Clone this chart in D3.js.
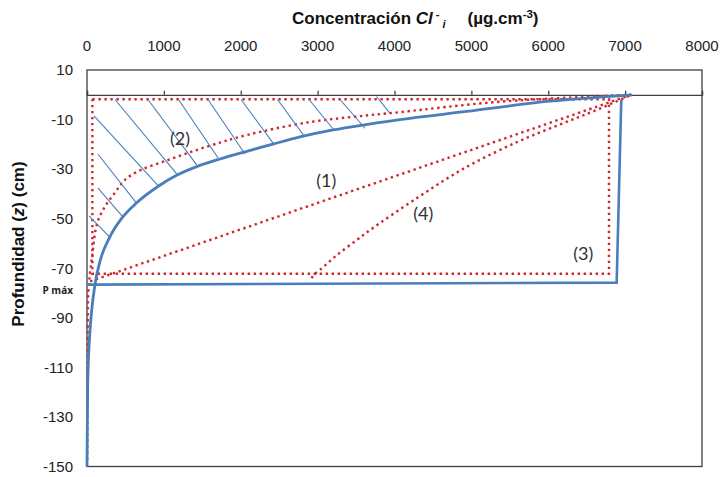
<!DOCTYPE html>
<html>
<head>
<meta charset="utf-8">
<script src="https://cdn.jsdelivr.net/npm/d3@7/dist/d3.min.js"></script>
<style>
  html, body { margin: 0; padding: 0; background: #fff; }
  svg { display: block; }
</style>
</head>
<body>
<svg id="chart" width="723" height="477"></svg>
<script>
// Axis ticks
const concTicks = [0, 1000, 2000, 3000, 4000, 5000, 6000, 7000, 8000];
const depthTicks = [10, -10, -30, -50, -70, -90, -110, -130, -150];

// Measured chloride profile (blue curve): concentration and depth
const profileConc  = [7085, 6020, 4940, 4070, 3200, 2770, 2420, 2055, 1730, 1427, 1166, 932, 646, 453, 295, 169, 104, 61, 30, 15, 8, 0];
const profileDepth = [0, -2.6, -6.7, -10.0, -14.2, -17.0, -19.9, -23.0, -25.9, -29.0, -32.5, -36.8, -43.6, -49.8, -57.5, -67.2, -76.5, -87.0, -99.5, -110, -120, -150];

// Block profile (blue polyline down to P máx)
const blockConc  = [6950, 6890, 0];
const blockDepth = [-2, -75.8, -76.6];

// Model (1): linear decrease
const model1Conc  = [7080, 20];
const model1Depth = [0, -75.5];

// Model (2): exponential-like decay
const model2Conc  = [7080, 5370, 4070, 3460, 2900, 2290, 1925, 1730, 1405, 1058, 711, 494, 364, 234, 147, 104, 82, 61, 39, 17, 8, 3];
const model2Depth = [0, -2.8, -7.0, -8.9, -11.0, -14.7, -17.5, -19.3, -22.5, -26.3, -30.2, -34.3, -39.5, -45.1, -50.5, -55.8, -61.2, -66.6, -72, -80, -110, -148];

// Model (3): uniform block
const model3Conc  = [70, 6790, 6790, 70, 70];
const model3Depth = [-1.8, -1.8, -72.2, -72.2, -1.8];

// Model (4): front ending inside the block
const model4Conc  = [2920, 2960, 3030, 3250, 3510, 3681, 4300, 4939, 5600, 6150, 6600, 7080];
const model4Depth = [-74, -72.4, -70.7, -64.7, -58.6, -54.6, -41.5, -29.1, -19, -12, -6.5, 0];

// Hatch segments between the block top and the measured curve
const hatchConcStart  = [26, 143, 143, 91, 364, 793, 1190, 1574, 2003, 2478, 2888, 3291, 3766];
const hatchDepthStart = [-48.9, -37.7, -24.0, -8.5, -1.9, -1.9, -1.9, -1.9, -1.9, -1.9, -1.9, -1.9, -0.7];
const hatchConcEnd    = [299, 455, 647, 937, 1167, 1427, 1708, 2055, 2423, 2814, 3204, 3616, 3941];
const hatchDepthEnd   = [-57.5, -48.9, -43.8, -37.1, -31.9, -28.3, -25.6, -23.9, -19.6, -16.2, -13.9, -13.5, -7.5];

// Curve labels
const labelText  = ["(1)", "(2)", "(3)", "(4)"];
const labelConc  = [3113, 1210, 6456, 4375];
const labelDepth = [-34.4, -17.5, -63.9, -47.8];

const pMaxDepth = -77;

const svg = d3.select("#chart");
const margin = { left: 87, right: 21, top: 70, bottom: 10.5 };
const W = 723, H = 477;

const x = d3.scaleLinear().domain([0, 8000]).range([margin.left, W - margin.right]);
const y = d3.scaleLinear().domain([10, -150]).range([margin.top, H - margin.bottom]);

const BLUE = "#4a7ebb";
const RED = "#d0262e";
const AXIS = "#404040";
const numFont = "'Liberation Sans', Arial, sans-serif";

// Plot frame
svg.append("rect")
  .attr("x", x(0)).attr("y", y(10))
  .attr("width", x(8000) - x(0)).attr("height", y(-150) - y(10))
  .attr("fill", "none").attr("stroke", AXIS).attr("stroke-width", 1.3);

// Concentration axis crossing at depth 0, ticks pointing up
const xAxis = d3.axisTop(x).tickValues(concTicks).tickSize(4).tickFormat("");
const gx = svg.append("g").attr("transform", `translate(0,${y(0)})`).call(xAxis);
gx.select(".domain").attr("stroke", AXIS).attr("stroke-width", 1.3);
gx.selectAll(".tick line").attr("stroke", AXIS).attr("stroke-width", 1.3);

// Concentration tick labels above the frame
svg.append("g").selectAll("text").data(concTicks).join("text")
  .attr("x", d => x(d)).attr("y", 45)
  .attr("text-anchor", "middle").attr("dominant-baseline", "central")
  .attr("font-family", numFont).attr("font-size", 15).attr("fill", "#222")
  .text(d => d);

// Depth axis labels
const yAxis = d3.axisLeft(y).tickValues(depthTicks).tickSize(0).tickPadding(14)
  .tickFormat(d => String(d));
const gy = svg.append("g").attr("transform", `translate(${x(0)},0)`).call(yAxis);
gy.select(".domain").remove();
gy.selectAll(".tick text")
  .attr("font-family", numFont).attr("font-size", 15).attr("fill", "#222");

// Red dotted models
const zip = (a, b) => a.map((v, i) => [v, b[i]]);
const line = d3.line().x(d => x(d[0])).y(d => y(d[1]));
const smooth = d3.line().x(d => x(d[0])).y(d => y(d[1])).curve(d3.curveCatmullRom.alpha(0.5));
const monotone = d3.line().x(d => x(d[0])).y(d => y(d[1])).curve(d3.curveMonotoneX);
const byConc = pts => pts.slice().sort((a, b) => a[0] - b[0]);

const dotted = g => g.attr("fill", "none").attr("stroke", RED)
  .attr("stroke-width", 2.4).attr("stroke-dasharray", "2.4,3.6");

svg.append("path").datum(zip(model3Conc, model3Depth)).attr("d", line).call(dotted);
svg.append("path").datum(zip(model1Conc, model1Depth)).attr("d", line).call(dotted);
svg.append("path").datum(zip(model2Conc, model2Depth)).attr("d", smooth).call(dotted);
svg.append("path").datum(zip(model4Conc, model4Depth)).attr("d", smooth).call(dotted);

// Hatching
svg.append("g").selectAll("line").data(hatchConcStart).join("line")
  .attr("x1", d => x(d)).attr("y1", (d, i) => y(hatchDepthStart[i]))
  .attr("x2", (d, i) => x(hatchConcEnd[i])).attr("y2", (d, i) => y(hatchDepthEnd[i]))
  .attr("stroke", BLUE).attr("stroke-width", 1.1);

// Blue block and measured curve
svg.append("path").datum(zip(blockConc, blockDepth)).attr("d", line)
  .attr("fill", "none").attr("stroke", BLUE).attr("stroke-width", 2.6);
svg.append("path").datum(byConc(zip(profileConc, profileDepth))).attr("d", monotone)
  .attr("fill", "none").attr("stroke", BLUE).attr("stroke-width", 2.8);

// Curve labels
svg.append("g").selectAll("text").data(labelText).join("text")
  .attr("x", (d, i) => x(labelConc[i])).attr("y", (d, i) => y(labelDepth[i]))
  .attr("text-anchor", "middle").attr("dominant-baseline", "central")
  .attr("font-family", "Lato, 'Open Sans', sans-serif").attr("font-size", 18).attr("fill", "#333")
  .text(d => d);

// P máx marker label
svg.append("text")
  .attr("x", 73).attr("y", y(pMaxDepth) + 4)
  .attr("text-anchor", "end").attr("dominant-baseline", "central")
  .attr("font-family", "'Open Sans', 'Noto Sans', sans-serif").attr("font-weight", "bold")
  .attr("font-size", 10).attr("fill", "#222")
  .text("P máx");

// Title
const title = svg.append("text")
  .attr("x", 292).attr("y", 24)
  .attr("font-family", numFont).attr("font-weight", "bold").attr("font-size", 17).attr("fill", "#111");
title.append("tspan").text("Concentración ");
title.append("tspan").attr("font-style", "italic").text("Cl");
title.append("tspan").attr("font-size", 11).attr("dx", 3).attr("dy", -6).text("-");
title.append("tspan").attr("font-size", 11).attr("font-style", "italic").attr("dx", 3).attr("dy", 10).text("i");
title.append("tspan").attr("dx", 22).attr("dy", -4).text("(µg.cm");
title.append("tspan").attr("font-size", 11.5).attr("dy", -6).text("-3");
title.append("tspan").attr("dy", 6).text(")");

// Depth axis title
const ytitle = svg.append("text")
  .attr("transform", `translate(24,${244}) rotate(-90)`)
  .attr("text-anchor", "middle")
  .attr("font-family", numFont).attr("font-weight", "bold").attr("font-size", 17).attr("fill", "#111");
ytitle.append("tspan").text("Profundidad (");
ytitle.append("tspan").attr("font-style", "italic").text("z");
ytitle.append("tspan").text(") (cm)");
</script>
</body>
</html>
